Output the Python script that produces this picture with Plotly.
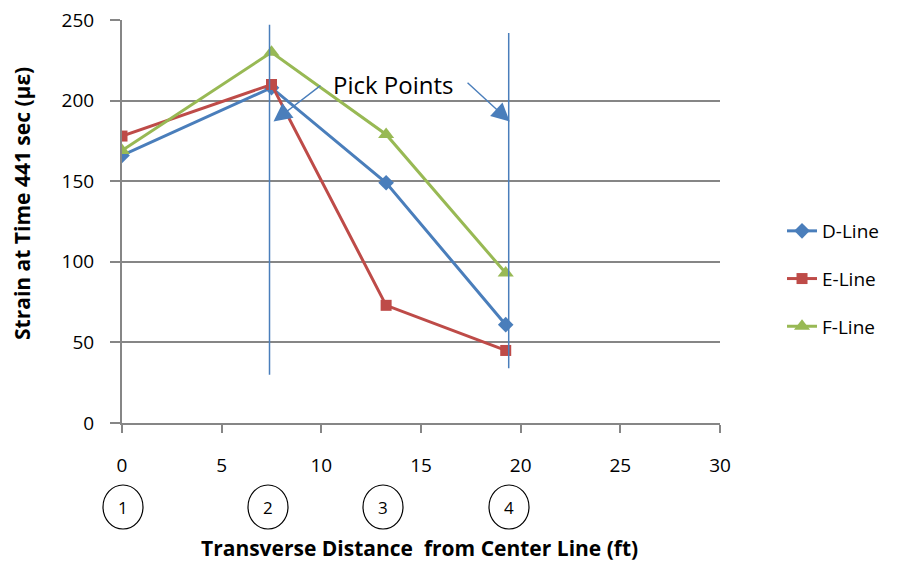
import plotly.graph_objects as go

x_pos = [0, 7.5, 13.25, 19.25]
d_line = [166, 208, 149, 61]
e_line = [178, 210, 73, 45]
f_line = [169, 230, 179, 93]
series_names = ["D-Line", "E-Line", "F-Line"]
colors = ["#4A7EBB", "#BE4B48", "#98B954"]
symbols = ["diamond", "square", "triangle-up"]
msizes = [12, 11, 14]

pick_x = [7.4, 19.4]
pick_y0 = [30, 34]
pick_y1 = [247, 242]
circle_px = [123, 268, 383, 509]
circle_labels = ["1", "2", "3", "4"]

FONT = "'Open Sans', sans-serif"
L, R, T, B = 122, 185, 20, 142
W, H = 905, 565
PW, PH = W - L - R, H - T - B

fig = go.Figure()
for name, ys, c, s, ms in zip(series_names, [d_line, e_line, f_line], colors, symbols, msizes):
    fig.add_trace(go.Scatter(
        x=x_pos, y=ys, name=name, mode="lines+markers",
        line=dict(color=c, width=3),
        marker=dict(symbol=s, size=ms, color=c),
        legendgroup=name,
    ))

for px, y0, y1 in zip(pick_x, pick_y0, pick_y1):
    fig.add_shape(type="line", xref="x", yref="y", x0=px, x1=px, y0=y0, y1=y1,
                  line=dict(color="#4A7EBB", width=1.5))

# Pick Points arrows
fig.add_annotation(x=7.6, y=187, ax=10.03, ay=210, xref="x", yref="y", axref="x", ayref="y",
                   text="", showarrow=True, arrowhead=2, arrowsize=2.6, arrowwidth=1.4, arrowcolor="#4A7EBB")
fig.add_annotation(x=19.45, y=187, ax=17.26, ay=212, xref="x", yref="y", axref="x", ayref="y",
                   text="", showarrow=True, arrowhead=2, arrowsize=2.6, arrowwidth=1.4, arrowcolor="#4A7EBB")
fig.add_annotation(x=13.6, y=210, xref="x", yref="y", text="Pick Points", showarrow=False,
                   xanchor="center", yanchor="middle",
                   font=dict(family=FONT, size=24, color="black"))

for px, lab in zip(circle_px, circle_labels):
    cx = (px - L) / PW
    cy = (H - B - 507) / PH
    fig.add_shape(type="circle", xref="paper", yref="paper", x0=cx - 20 / PW, x1=cx + 20 / PW,
                  y0=cy - 22 / PH, y1=cy + 22 / PH, line=dict(color="black", width=1.2))
    fig.add_annotation(x=cx, y=cy, xref="paper", yref="paper", text=lab, showarrow=False,
                       xanchor="center", yanchor="middle",
                       font=dict(family=FONT, size=17, color="black"))

# axis titles
fig.add_annotation(x=(419 - L) / PW, y=(H - B - 548) / PH, xref="paper", yref="paper",
                   text="<b>Transverse Distance  from Center Line (ft)</b>", showarrow=False,
                   font=dict(family=FONT, size=21, color="black"), xanchor="center", yanchor="middle")
fig.add_annotation(x=(22 - L) / PW, y=(H - B - 204) / PH, xref="paper", yref="paper",
                   text="<b>Strain at Time 441 sec (με)</b>", showarrow=False, textangle=-90,
                   font=dict(family=FONT, size=21, color="black"), xanchor="center", yanchor="middle")

fig.update_layout(
    width=W, height=H,
    margin=dict(l=L, r=R, t=T, b=B, autoexpand=False),
    plot_bgcolor="white", paper_bgcolor="white",
    font=dict(family=FONT, size=19, color="black"),
    showlegend=True,
    legend=dict(x=(788 - L) / PW - 0.01, y=(H - B - 212) / PH, xanchor="left", yanchor="top",
                font=dict(size=19), tracegroupgap=20, bgcolor="rgba(0,0,0,0)"),
    xaxis=dict(range=[0, 30], tickvals=[0, 5, 10, 15, 20, 25, 30], showgrid=False, automargin=False,
               showline=True, linecolor="#868686", linewidth=2, ticks="outside", ticklen=8,
               tickcolor="#868686", tickwidth=2, ticklabelstandoff=16, zeroline=False),
    yaxis=dict(range=[0, 250], tickvals=[0, 50, 100, 150, 200, 250], showgrid=True, automargin=False,
               gridcolor="#868686", gridwidth=2, showline=True, linecolor="#868686", linewidth=2,
               ticks="outside", ticklen=10, tickcolor="#868686", tickwidth=2, ticklabelstandoff=12,
               zeroline=False),
)

fig.write_html("out.html")
